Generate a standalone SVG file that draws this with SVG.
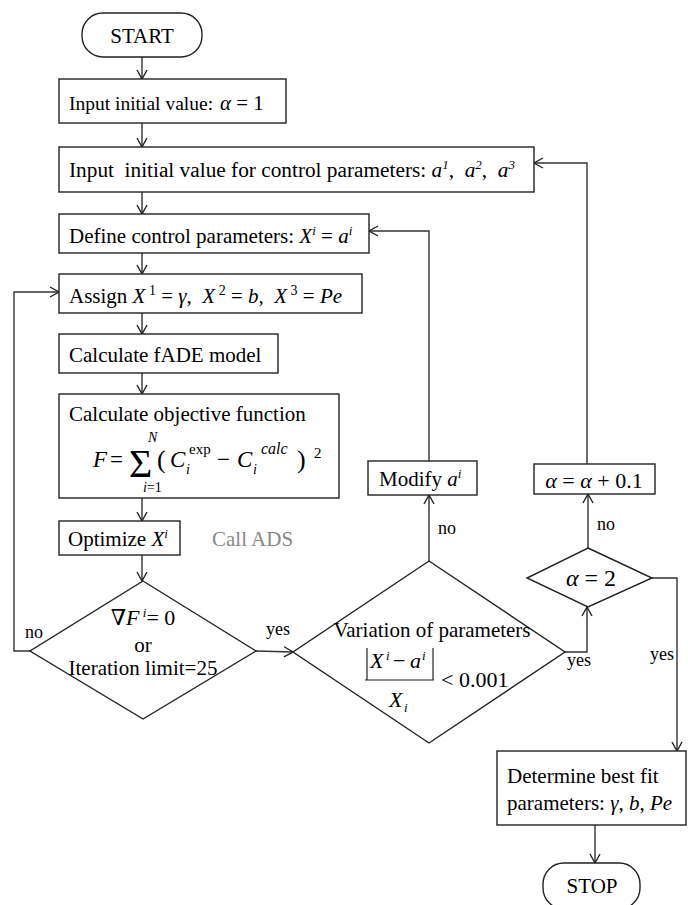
<svg xmlns="http://www.w3.org/2000/svg" width="688" height="905" viewBox="0 0 688 905">
<style>
text{font-family:"Liberation Serif","DejaVu Serif",serif;font-size:21px;fill:#000;white-space:pre}
.i{font-style:italic}
.box{fill:#fff;stroke:#222;stroke-width:1.4}
.con{fill:none;stroke:#333;stroke-width:1.4}
.lbl{font-size:18px}
.gray{fill:#888}
</style>
<defs>
<marker id="ah" viewBox="-1 -6 11 12" refX="9" refY="0" markerWidth="11" markerHeight="12" markerUnits="userSpaceOnUse" orient="auto">
<path d="M0,-5 L9,0 L0,5" fill="none" stroke="#222" stroke-width="1.4"/>
</marker>
</defs>

<g id="connectors">
<line class="con" x1="142" y1="57" x2="142" y2="79" marker-end="url(#ah)"/>
<line class="con" x1="142" y1="123" x2="142" y2="147" marker-end="url(#ah)"/>
<line class="con" x1="142" y1="192" x2="142" y2="214" marker-end="url(#ah)"/>
<line class="con" x1="142" y1="253" x2="142" y2="274" marker-end="url(#ah)"/>
<line class="con" x1="142" y1="313" x2="142" y2="334" marker-end="url(#ah)"/>
<line class="con" x1="142" y1="373" x2="142" y2="394" marker-end="url(#ah)"/>
<line class="con" x1="142" y1="498" x2="142" y2="521" marker-end="url(#ah)"/>
<line class="con" x1="142" y1="555" x2="142" y2="581" marker-end="url(#ah)"/>
<polyline class="con" points="30,651 14,651 14,292 59,292" marker-end="url(#ah)"/>
<line class="con" x1="256" y1="651" x2="293" y2="652" marker-end="url(#ah)"/>
<line class="con" x1="429" y1="561" x2="429" y2="495" marker-end="url(#ah)"/>
<polyline class="con" points="429,461 429,231 369,231" marker-end="url(#ah)"/>
<polyline class="con" points="565,652 587,652 587,607" marker-end="url(#ah)"/>
<line class="con" x1="588" y1="548" x2="588" y2="494" marker-end="url(#ah)"/>
<polyline class="con" points="587,464 587,163 534,163" marker-end="url(#ah)"/>
<polyline class="con" points="652,578 677,578 677,751" marker-end="url(#ah)"/>
<line class="con" x1="595" y1="825" x2="595" y2="863" marker-end="url(#ah)"/>
<text class="lbl" x="25" y="638">no</text>
<text class="lbl" x="266" y="635">yes</text>
<text class="lbl" x="438" y="534">no</text>
<text class="lbl" x="597" y="530">no</text>
<text class="lbl" x="567" y="666">yes</text>
<text class="lbl" x="650" y="660">yes</text>
</g>

<g id="start">
<rect class="box" x="82" y="13" width="120" height="44" rx="21"/>
<text x="142" y="43" text-anchor="middle">START</text>
</g>

<g id="input-alpha">
<rect class="box" x="59" y="79" width="227" height="44"/>
<text x="69" y="110" style="font-size:19.5px">Input initial value:</text>
<text x="220" y="110" style="font-size:21px"><tspan class="i">α</tspan> = 1</text>
</g>

<g id="input-control">
<rect class="box" x="59" y="147" width="475" height="45"/>
<text x="69" y="177" style="font-size:21.3px">Input  initial value for control parameters: <tspan class="i">a</tspan><tspan class="i" dy="-8" style="font-size:13px">1</tspan><tspan dy="8">,  </tspan><tspan class="i">a</tspan><tspan class="i" dy="-8" style="font-size:13px">2</tspan><tspan dy="8">,  </tspan><tspan class="i">a</tspan><tspan class="i" dy="-8" style="font-size:13px">3</tspan></text>
</g>

<g id="define-control">
<rect class="box" x="59" y="214" width="310" height="39"/>
<text x="69" y="243">Define control parameters: <tspan class="i">X</tspan><tspan class="i" dy="-8" style="font-size:13px">i</tspan><tspan dy="8"> = </tspan><tspan class="i">a</tspan><tspan class="i" dy="-8" style="font-size:13px">i</tspan></text>
</g>

<g id="assign">
<rect class="box" x="59" y="274" width="303" height="39"/>
<text x="69" y="303">Assign <tspan class="i">X</tspan><tspan dy="-8" style="font-size:14px"> 1</tspan><tspan dy="8"> = </tspan><tspan class="i">γ</tspan>,  <tspan class="i">X</tspan><tspan dy="-8" style="font-size:14px"> 2</tspan><tspan dy="8"> = </tspan><tspan class="i">b</tspan>,  <tspan class="i">X</tspan><tspan dy="-8" style="font-size:14px"> 3</tspan><tspan dy="8"> = </tspan><tspan class="i">Pe</tspan></text>
</g>

<g id="fade">
<rect class="box" x="59" y="334" width="219" height="39"/>
<text x="69" y="362">Calculate fADE model</text>
</g>

<g id="objective">
<rect class="box" x="59" y="394" width="280" height="104"/>
<text x="69" y="421">Calculate objective function</text>
<text x="93" y="467" class="i" style="font-size:23px">F</text>
<text x="110" y="467" style="font-size:23px">=</text>
<text x="129" y="477" style="font-size:40px">Σ</text>
<text x="148" y="442" class="i" style="font-size:14px">N</text>
<text x="143" y="492" style="font-size:14px"><tspan class="i">i</tspan>=1</text>
<text x="157" y="468" style="font-size:26px">(</text>
<text x="170" y="467" class="i" style="font-size:23px">C</text>
<text x="186" y="474" class="i" style="font-size:14px">i</text>
<text x="189" y="454" style="font-size:15px">exp</text>
<text x="217" y="467" style="font-size:23px">−</text>
<text x="237" y="467" class="i" style="font-size:23px">C</text>
<text x="253" y="474" class="i" style="font-size:14px">i</text>
<text x="261" y="454" class="i" style="font-size:16px">calc</text>
<text x="297" y="468" style="font-size:26px">)</text>
<text x="314" y="458" style="font-size:15px">2</text>
</g>

<g id="optimize">
<rect class="box" x="59" y="521" width="121" height="34"/>
<text x="68" y="546">Optimize <tspan class="i">X</tspan><tspan class="i" dy="-8" style="font-size:13px">i</tspan></text>
<text x="212" y="546" class="gray">Call ADS</text>
</g>

<g id="check-gradient">
<polygon class="box" points="143,581 256,651 143,719 30,651"/>
<text x="143" y="625" text-anchor="middle" style="font-size:22px">∇<tspan class="i">F</tspan><tspan class="i" dy="-8" style="font-size:13px"> i</tspan><tspan dy="8">= 0</tspan></text>
<text x="143" y="652" text-anchor="middle">or</text>
<text x="143" y="675" text-anchor="middle">Iteration limit=25</text>
</g>

<g id="check-variation">
<polygon class="box" points="429,561 565,652 429,743 293,652"/>
<text x="432" y="637" text-anchor="middle">Variation of parameters</text>
<line x1="367" y1="648" x2="367" y2="680" stroke="#222" stroke-width="1.2"/>
<line x1="433" y1="648" x2="433" y2="680" stroke="#222" stroke-width="1.2"/>
<line x1="365" y1="680" x2="434" y2="680" stroke="#222" stroke-width="1.2"/>
<text x="370" y="668" class="i" style="font-size:22px">X</text>
<text x="386" y="660" class="i" style="font-size:13px">i</text>
<text x="393" y="668" style="font-size:22px">−</text>
<text x="410" y="668" class="i" style="font-size:22px">a</text>
<text x="422" y="660" class="i" style="font-size:13px">i</text>
<text x="389" y="707" class="i" style="font-size:22px">X</text>
<text x="404" y="712" class="i" style="font-size:13px">i</text>
<text x="441" y="687" style="font-size:22px">&lt; 0.001</text>
</g>

<g id="modify">
<rect class="box" x="368" y="461" width="109" height="34"/>
<text x="379" y="486">Modify <tspan class="i">a</tspan><tspan class="i" dy="-8" style="font-size:13px">i</tspan></text>
</g>

<g id="check-alpha">
<polygon class="box" points="588,548 652,578 588,607 527,578"/>
<text x="591" y="586" text-anchor="middle" style="font-size:24px"><tspan class="i">α</tspan> = 2</text>
</g>

<g id="increment-alpha">
<rect class="box" x="534" y="464" width="121" height="30"/>
<text x="594" y="488" text-anchor="middle" style="font-size:22px"><tspan class="i">α</tspan> = <tspan class="i">α</tspan> + 0.1</text>
</g>

<g id="best-fit">
<rect class="box" x="497" y="751" width="189" height="74"/>
<text x="507" y="783">Determine best fit</text>
<text x="507" y="810">parameters: <tspan class="i">γ</tspan>, <tspan class="i">b</tspan>, <tspan class="i">Pe</tspan></text>
</g>

<g id="stop">
<rect class="box" x="543" y="863" width="97" height="46" rx="21"/>
<text x="592" y="893" text-anchor="middle">STOP</text>
</g>
</svg>
